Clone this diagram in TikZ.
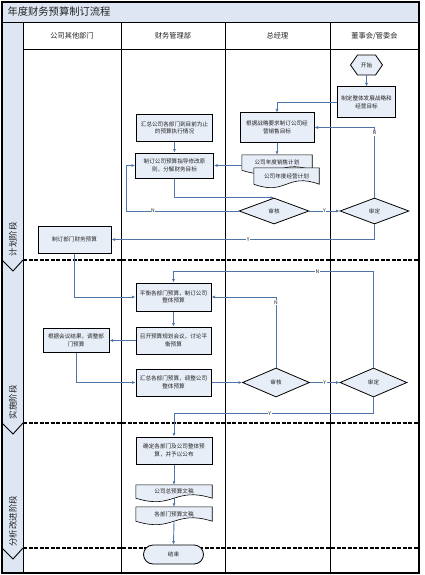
\documentclass[tikz,border=0pt]{standalone}
\usepackage{fontspec}
\setmainfont{Noto Sans CJK SC}
\usetikzlibrary{arrows.meta,shapes.geometric,shapes.symbols,shapes.misc,calc,backgrounds}
\definecolor{nodefill}{HTML}{E8EEF8}
\definecolor{bandfill}{HTML}{DDE6F2}
\definecolor{conn}{HTML}{4F74A8}
\definecolor{txt}{HTML}{222222}
\newcommand\docdraw[1]{\filldraw[docshape] (#1.north west) -- (#1.north east) -- (#1.south east) .. controls ($(#1.south)+(0,-12)$) and ($(#1.south)+(0,12)$) .. (#1.south west) -- cycle;}
\begin{document}
\begin{tikzpicture}[x=1pt,y=-1pt,
  box/.style={draw=black, line width=1pt, fill=nodefill, inner sep=0pt, align=center, font=\fontsize{5.6}{7.4}\selectfont, text=txt},
  dia/.style={diamond, draw=black, line width=0.8pt, fill=nodefill, inner sep=0pt, font=\fontsize{5.6}{7}\selectfont, text=txt},
  startnode/.style={signal, signal to=west and east, signal pointer angle=110, draw=black, line width=0.8pt, fill=nodefill, inner sep=0pt, minimum width=32pt, minimum height=20pt, font=\fontsize{5.6}{7}\selectfont, text=txt},
  termnode/.style={rounded rectangle, draw=black, line width=0.8pt, fill=nodefill, inner sep=0pt, minimum width=60pt, minimum height=19pt, font=\fontsize{5.6}{7}\selectfont, text=txt},
  docnode/.style={inner sep=0pt, font=\fontsize{5.6}{7}\selectfont, text=txt},
  docshape/.style={draw=black, line width=0.6pt, fill=nodefill},
  flow/.style={draw=conn, line width=0.9pt, -{Latex[length=3.5pt,width=3pt]}},
  lbl/.style={fill=white, inner sep=0.6pt, font=\fontsize{5}{5}\selectfont, text=txt},
  lane/.style={draw=black, line width=0.9pt},
  sepline/.style={draw=black, line width=1.3pt, dash pattern=on 4pt off 1.5pt},
  hdr/.style={font=\fontsize{7.2}{8}\selectfont, text=txt},
  phase/.style={rotate=90, font=\fontsize{8.5}{9}\selectfont, text=txt},
]
\useasboundingbox (0,0) rectangle (424,575);
% bands
\fill[bandfill] (2,2) rectangle (419,22);
\fill[bandfill] (2,22) rectangle (23,573);
\node[anchor=west, font=\fontsize{10.3}{11}\selectfont, text=txt] (title) at (4,12) {年度财务预算制订流程};
% header
\node[hdr] (h1) at (72,36) {公司其他部门};
\node[hdr] (h2) at (173,36) {财务管理部};
\node[hdr] (h3) at (277.5,36) {总经理};
\node[hdr] (h4) at (374.5,36) {董事会/管委会};
% lanes
\draw[lane] (2,22) -- (419,22);
\draw[lane] (23,49) -- (419,49);
\foreach \x in {23,121,225,330} \draw[lane] (\x,22) -- (\x,573);
% phase separators
\foreach \y in {260,423,548} {
  \draw[sepline] (23,\y) -- (419,\y);
  \draw[lane] (2,\y) -- (13,\y+11) -- (23,\y);
}
\node[phase] (p1) at (13,239) {计划阶段};
\node[phase] (p2) at (13,402) {实施阶段};
\node[phase] (p3) at (13,521) {分析改进阶段};
\draw[line width=1.3pt] (2,2) rectangle (419,573);

% phase 1
\node[startnode] (start) at (366.5,65) {开始};
\node[box, minimum width=58pt, minimum height=31pt] (strat) at (366.5,102.5) {制定整体发展战略和\\经营目标};
\node[box, minimum width=74pt, minimum height=29pt] (gmT) at (277,127.5) {根据战略要求制订公司经\\营销售目标};
\node[docnode, minimum width=70pt, minimum height=15pt] (doc1) at (277,162.5) {公司年度销售计划};
\node[docnode, minimum width=65pt, minimum height=16pt] (doc2) at (286.5,176) {公司年度经营计划};
\node[box, minimum width=76pt, minimum height=27pt] (fin1) at (174.5,128) {汇总公司各部门到目前为止\\的预算执行情况};
\node[box, minimum width=78pt, minimum height=25pt] (fin2) at (174.5,165.5) {制订公司预算指导修改原\\则，分解财务目标};
\node[dia, minimum width=70pt, minimum height=26pt] (aud1) at (274,211) {审核};
\node[dia, minimum width=69pt, minimum height=26pt] (app1) at (374.5,211) {审定};
\node[box, minimum width=73pt, minimum height=27pt] (dept1) at (74.5,239.5) {制订部门财务预算};
% phase 2
\node[box, minimum width=75pt, minimum height=28pt] (bal) at (173.5,297) {平衡各部门预算，制订公司\\整体预算};
\node[box, minimum width=75pt, minimum height=27pt] (meet) at (173.5,340.5) {召开预算规划会议，讨论平\\衡预算};
\node[box, minimum width=66pt, minimum height=24pt] (dept2) at (76,340.5) {根据会议结果，调整部\\门预算};
\node[box, minimum width=75pt, minimum height=27pt] (sum2) at (173.5,382.5) {汇总各部门预算，调整公司\\整体预算};
\node[dia, minimum width=67pt, minimum height=29pt] (aud2) at (276,382.5) {审核};
\node[dia, minimum width=67pt, minimum height=29pt] (app2) at (373.5,382.5) {审定};
% phase 3
\node[box, minimum width=76pt, minimum height=27pt] (publish) at (174,450.5) {确定各部门及公司整体预\\算，并予以公布};
\node[docnode, minimum width=76pt, minimum height=13pt] (docA) at (174,491.5) {公司总预算文稿};
\node[docnode, minimum width=76pt, minimum height=14pt] (docB) at (174,514) {各部门预算文稿};
\node[termnode] (finish) at (173.5,554.5) {结束};

\begin{pgfonlayer}{background}
\docdraw{doc1}
\docdraw{doc2}
\docdraw{docA}
\docdraw{docB}
\end{pgfonlayer}

% connectors
\draw[flow] (start.south) -- (strat.north);
\draw[flow] (strat.west) -| (gmT.north);
\draw[flow] (gmT.south) -- (doc1.north);
\draw[flow] (doc1.west |- fin2.east) -- (fin2.east);
\draw[flow] (fin1.south) -- (fin2.north);
\draw[flow] (fin2.south) |- (aud1.north);
\draw[flow] (aud1.west) -| node[lbl,pos=0.38]{N} ($(fin2.west)+(-9,0)$) -- (fin2.west);
\draw[flow] (aud1.east) -- node[lbl]{Y} (app1.west);
\draw[flow] (app1.north) |- node[lbl,pos=0.46]{N} (gmT.east);
\draw[flow] (app1.south) |- node[lbl,pos=0.74]{Y} (dept1.east);
\draw[flow] (dept1.south) |- (bal.west);
\draw[flow] (bal.south) -- (meet.north);
\draw[flow] (meet.west) -- (dept2.east);
\draw[flow] (dept2.south) |- (sum2.west);
\draw[flow] (sum2.east) -- (aud2.west);
\draw[flow] (aud2.north) |- node[lbl,pos=0.46]{N} (bal.east);
\draw[flow] (aud2.east) -- node[lbl]{Y} (app2.west);
\draw[flow] (app2.north) |- node[lbl,pos=0.64]{N} ($(bal.north)+(0,-11)$) -- (bal.north);
\draw[flow] (app2.south) |- node[lbl,pos=0.76]{Y} ($(publish.north)+(0,-23)$) -- (publish.north);
\draw[flow] (publish.south) -- (docA.north);
\draw[flow] (docA.south) -- (docB.north);
\draw[flow] (docB.south) -- (finish.north);
\end{tikzpicture}
\end{document}
